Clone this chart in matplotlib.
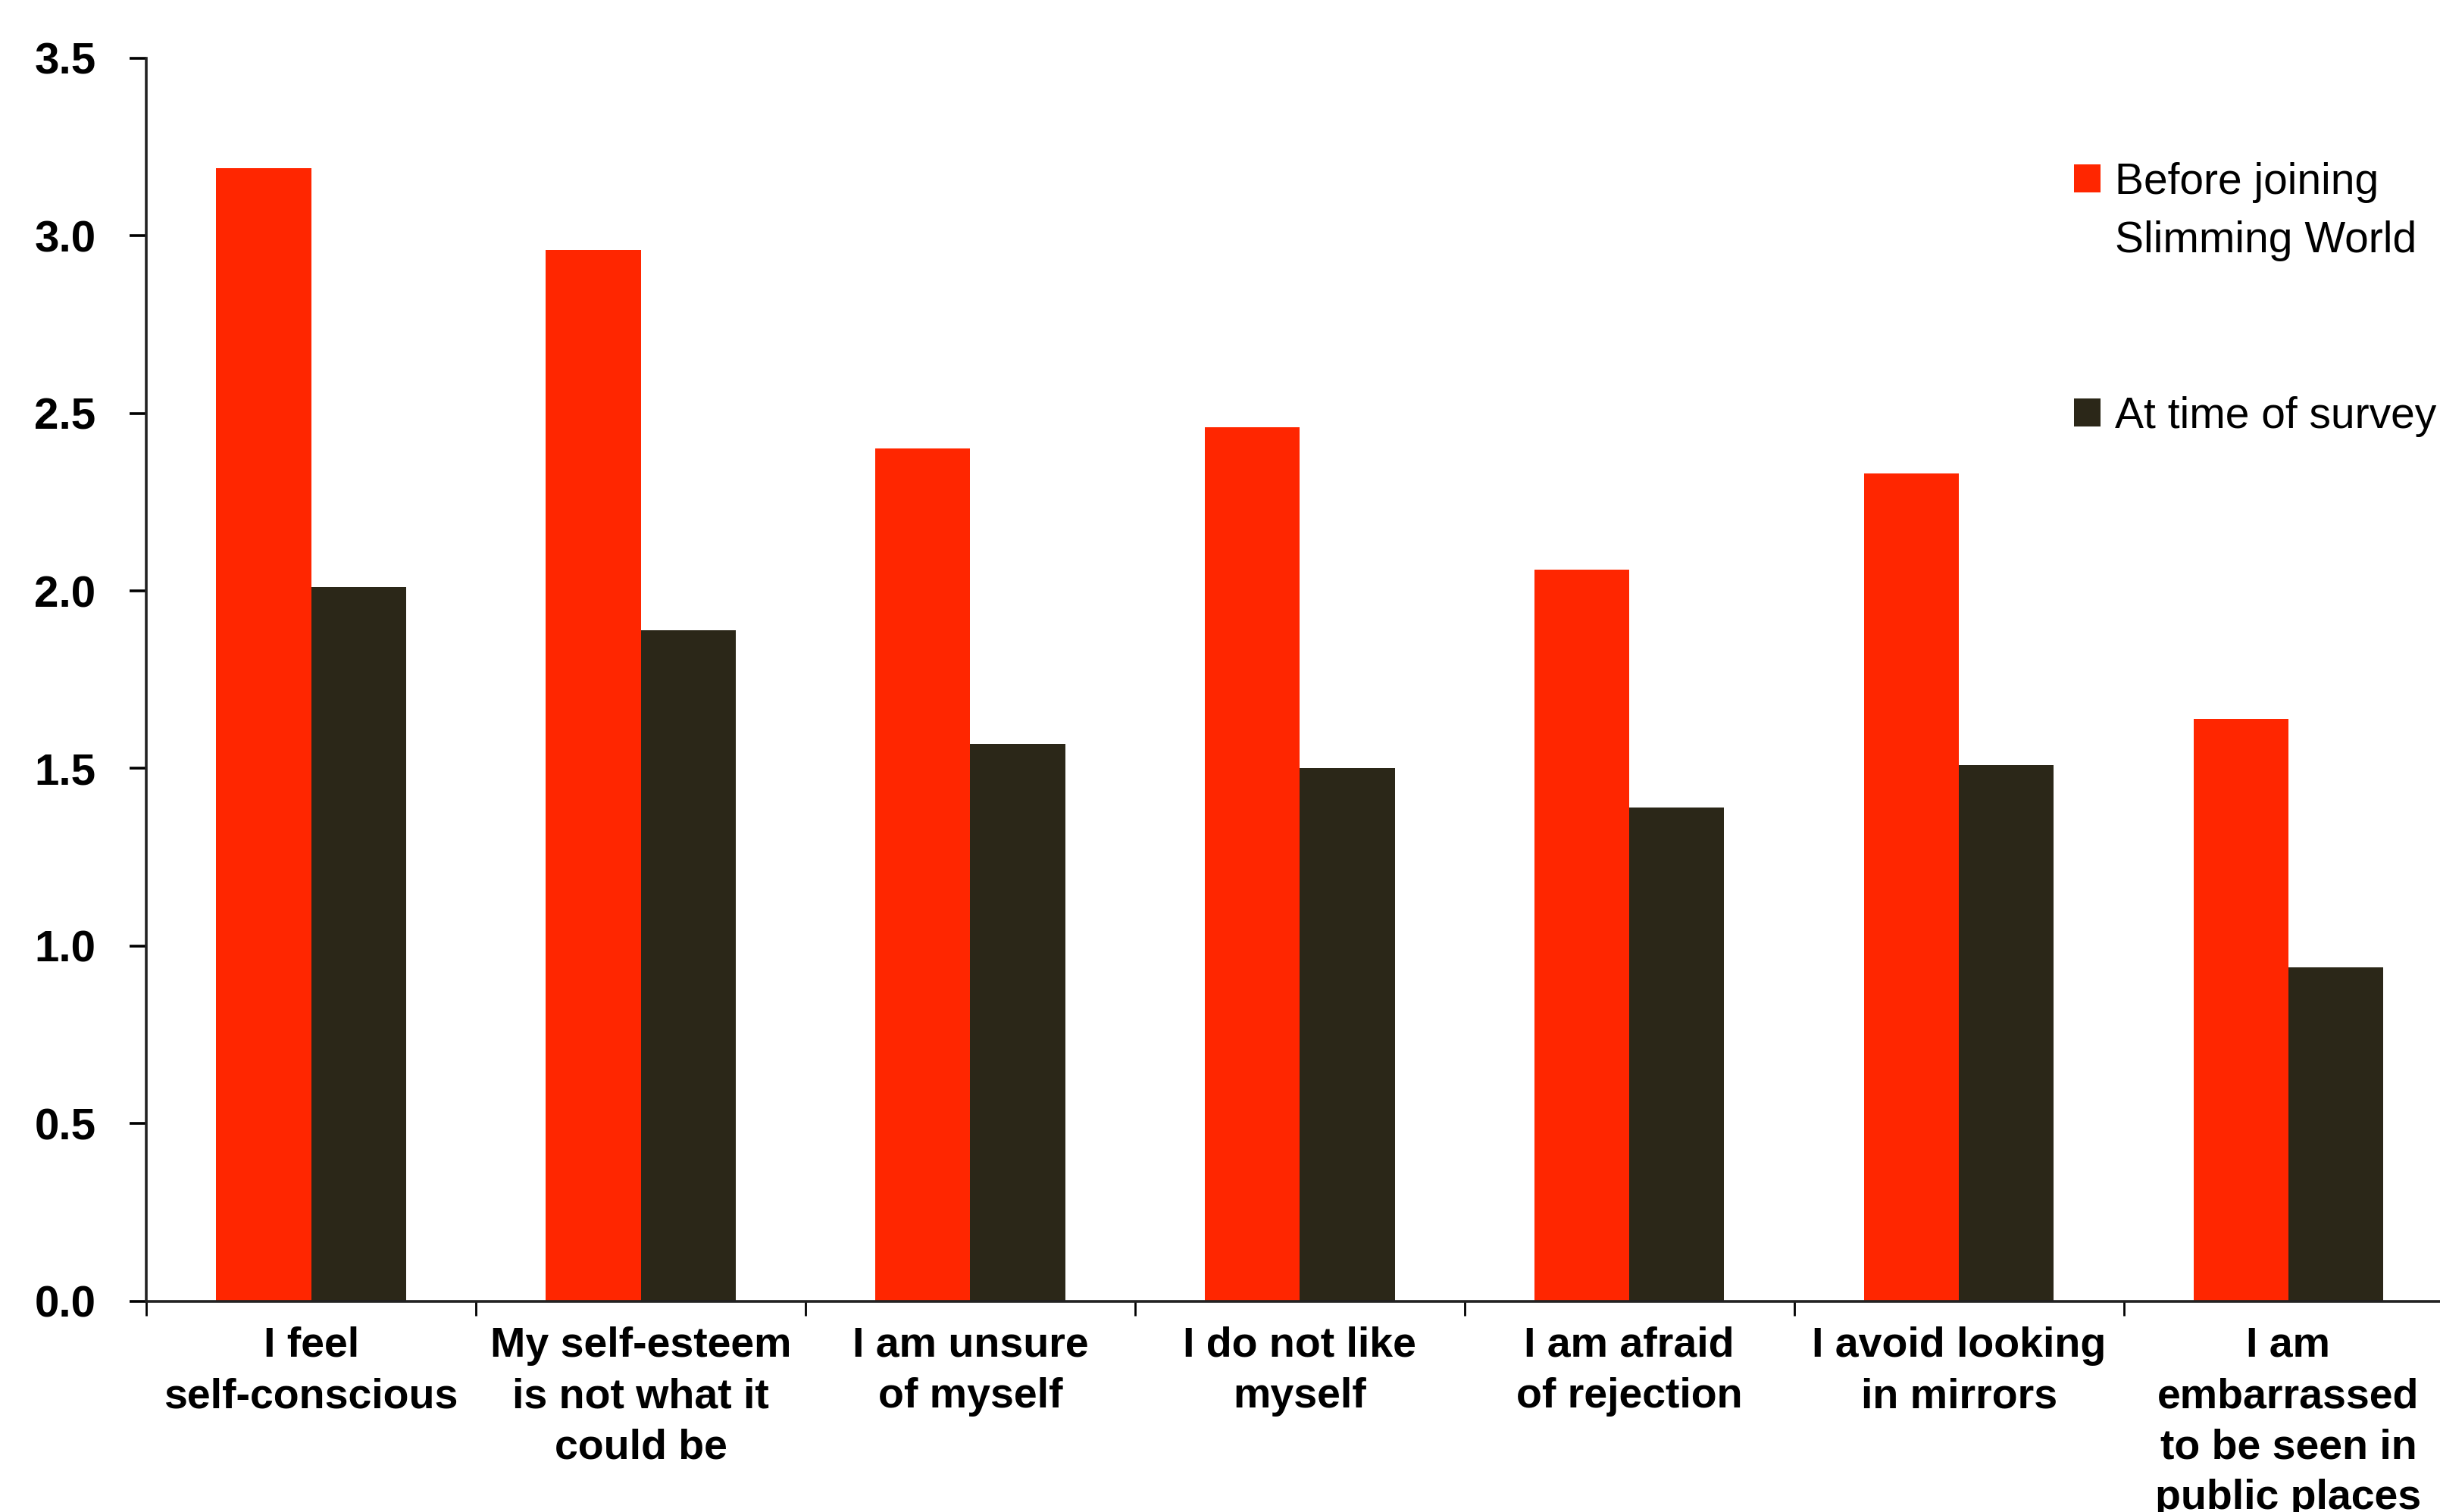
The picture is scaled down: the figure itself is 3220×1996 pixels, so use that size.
import matplotlib
matplotlib.use("Agg")
import matplotlib.pyplot as plt
from matplotlib.patches import Patch
import numpy as np

categories = ["I feel\nself-conscious",
              "My self-esteem\nis not what it\ncould be",
              "I am unsure\nof myself",
              "I do not like\nmyself",
              "I am afraid\nof rejection",
              "I avoid looking\nin mirrors",
              "I am\nembarrassed\nto be seen in\npublic places"]
before = [3.19, 2.96, 2.40, 2.46, 2.06, 2.33, 1.64]
now = [2.01, 1.89, 1.57, 1.50, 1.39, 1.51, 0.94]
series = ["Before joining", "Slimming World", " ", " ", "At time of survey"]
colors = ["#FF2600", "#2B2718"]
yticks = [0.0, 0.5, 1.0, 1.5, 2.0, 2.5, 3.0, 3.5]

font = ["Liberation Sans", "DejaVu Sans"]

fig = plt.figure(figsize=(16.1, 9.98), dpi=200)
ax = fig.add_axes([0.06, 0.1395, 0.94, 0.822])

x = np.arange(len(categories))
w = 0.288
b1 = ax.bar(x - w / 2, before, w, color=colors[0])
b2 = ax.bar(x + w / 2, now, w, color=colors[1])

ax.set_xlim(-0.5, 6.46)
ax.set_ylim(0, 3.5)

for s in ["top", "right"]:
    ax.spines[s].set_visible(False)
for s in ["left", "bottom"]:
    ax.spines[s].set_linewidth(1.3)
    ax.spines[s].set_color("#222222")

ax.set_yticks(yticks)
ax.set_yticklabels([f"{v:.1f}" for v in yticks], family=font,
                   fontweight="bold", fontsize=21)
ax.tick_params(axis="y", length=8, width=1.3, pad=16, direction="out")

ax.set_xticks(np.arange(-0.5, 6.5, 1.0))
ax.set_xticklabels([])
ax.set_xticks(x, minor=True)
ax.set_xticklabels(categories, minor=True, family=font,
                   fontweight="bold", fontsize=20, linespacing=1.38,
                   va="top")
ax.tick_params(axis="x", which="major", length=7, width=1.0,
               direction="out")
ax.tick_params(axis="x", which="minor", length=0, pad=12)

blank = Patch(facecolor="none", edgecolor="none")
handles = [b1, blank, blank, blank, b2]
leg = ax.legend(handles, series, loc="upper left",
                bbox_to_anchor=(0.85, 0.893),
                bbox_transform=fig.transFigure, frameon=False,
                prop={"family": font, "size": 20.5},
                handlelength=0.62, handleheight=0.62,
                handletextpad=0.33, labelspacing=0.41,
                borderpad=0, borderaxespad=0)

fig.savefig("out.png", dpi=200)
